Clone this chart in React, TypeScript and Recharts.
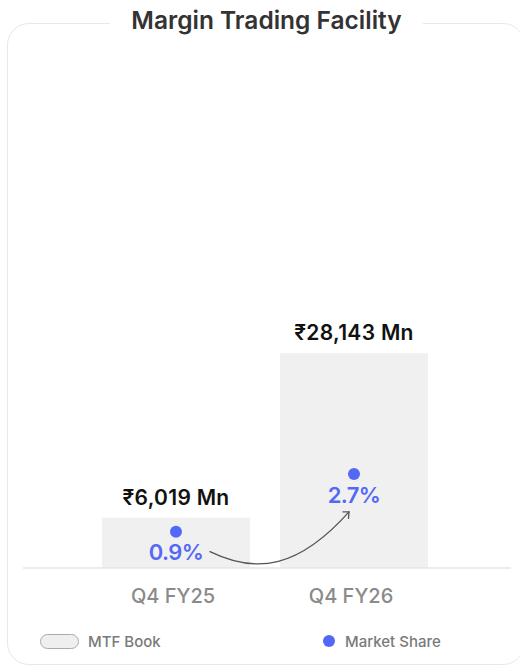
import { ComposedChart, Bar, Line, XAxis, YAxis, LabelList } from 'recharts';

const CATEGORIES = ['Q4 FY25', 'Q4 FY26'];
const MTF_BOOK = [6019, 28143]; // ₹ Mn
const MARKET_SHARE = [0.9, 2.7]; // %

const BAR_DOMAIN = [-750, 62230];
const SHARE_DOMAIN = [-0.234, 14.36];

const BLUE = '#5468f7';
const FONT = 'Inter, "Noto Sans", sans-serif';

const data = CATEGORIES.map((period, i) => ({
  period,
  mtf: MTF_BOOK[i],
  share: MARKET_SHARE[i],
  // range bar so the bar sits on the axis line
  mtfRange: [BAR_DOMAIN[0], MTF_BOOK[i]],
}));

// dot 0 is drawn before dot 1, so the arrow can be drawn with dot 1
let firstDot: { x: number; y: number } | null = null;

const ShareDot = (props: any) => {
  const { cx, cy, index } = props;
  if (index === 0) firstDot = { x: cx, y: cy };
  let arrow = null;
  if (index === 1 && firstDot) {
    const sx = firstDot.x + 34;
    const sy = firstDot.y + 20;
    const ex = cx - 5;
    const ey = cy + 38;
    arrow = (
      <g stroke="#555" strokeWidth={1.3} fill="none" strokeLinecap="round">
        <path d={`M${sx},${sy} C${sx + 47},${sy + 23} ${ex - 50},${ey + 56} ${ex},${ey}`} />
        <path d={`M${ex - 6},${ey} L${ex},${ey} L${ex - 0.5},${ey + 6.5}`} />
      </g>
    );
  }
  return (
    <g key={`dot-${index}`}>
      <circle cx={cx} cy={cy} r={6} fill={BLUE} />
      {arrow}
    </g>
  );
};

export default function App() {
  return (
    <div
      style={{
        position: 'absolute',
        left: 0,
        top: 0,
        width: 520,
        height: 668,
        overflow: 'hidden',
        background: '#fff',
        fontFamily: FONT,
      }}
    >
      {/* card */}
      <div
        style={{
          position: 'absolute',
          left: 7,
          top: 23,
          width: 518,
          height: 642,
          border: '1.5px solid #e8e8e8',
          borderRadius: 22,
          boxSizing: 'border-box',
        }}
      />
      <div
        style={{
          position: 'absolute',
          left: 110,
          width: 313,
          top: 3,
          height: 34,
          lineHeight: '34px',
          background: '#fff',
          textAlign: 'center',
          fontSize: 24.5,
          fontWeight: 600,
          color: '#333',
        }}
      >
        Margin Trading Facility
      </div>

      <div style={{ position: 'absolute', left: 0, top: 0 }}>
        <ComposedChart
          width={520}
          height={668}
          data={data}
          margin={{ top: 100, right: 9, left: 23, bottom: 70 }}
        >
          <XAxis
            dataKey="period"
            height={30}
            padding={{ left: 64, right: 68 }}
            axisLine={{ stroke: '#e6e6e6', strokeWidth: 1.5 }}
            tickLine={false}
            tickMargin={15}
            tick={{ fill: '#8a8a8a', fontSize: 20, fontWeight: 500, fontFamily: FONT, dx: -3 }}
          />
          <YAxis yAxisId="mtf" hide type="number" domain={BAR_DOMAIN} />
          <YAxis yAxisId="share" hide orientation="right" type="number" domain={SHARE_DOMAIN} />

          <Bar
            yAxisId="mtf"
            dataKey="mtfRange"
            barSize={148}
            fill="#f0f0f0"
            isAnimationActive={false}
          >
            <LabelList
              dataKey="mtf"
              position="top"
              offset={13}
              formatter={(v: any) => `₹${Number(v).toLocaleString('en-IN')} Mn`}
              style={{ fill: '#111', fontSize: 21, fontWeight: 600, fontFamily: FONT, letterSpacing: 0.3 }}
            />
          </Bar>

          <Line
            yAxisId="share"
            dataKey="share"
            stroke="none"
            dot={ShareDot}
            activeDot={false}
            isAnimationActive={false}
          >
            <LabelList
              dataKey="share"
              position="bottom"
              offset={13}
              formatter={(v: any) => `${v}%`}
              style={{ fill: BLUE, fontSize: 22, fontWeight: 600, fontFamily: FONT, letterSpacing: -0.6 }}
            />
          </Line>
        </ComposedChart>
      </div>

      {/* legend */}
      <div
        style={{
          position: 'absolute',
          left: 40,
          top: 631,
          height: 20,
          display: 'flex',
          alignItems: 'center',
          fontSize: 15,
          color: '#7a7a7a',
          fontWeight: 500,
        }}
      >
        <span
          style={{
            width: 37,
            height: 13,
            borderRadius: 8,
            background: '#efefef',
            border: '1px solid #aaa',
            marginRight: 9,
          }}
        />
        MTF Book
      </div>
      <div
        style={{
          position: 'absolute',
          left: 323,
          top: 631,
          height: 20,
          display: 'flex',
          alignItems: 'center',
          fontSize: 15,
          color: '#7a7a7a',
          fontWeight: 500,
        }}
      >
        <span
          style={{
            width: 12,
            height: 12,
            borderRadius: 6,
            background: BLUE,
            marginRight: 10,
          }}
        />
        Market Share
      </div>
    </div>
  );
}
